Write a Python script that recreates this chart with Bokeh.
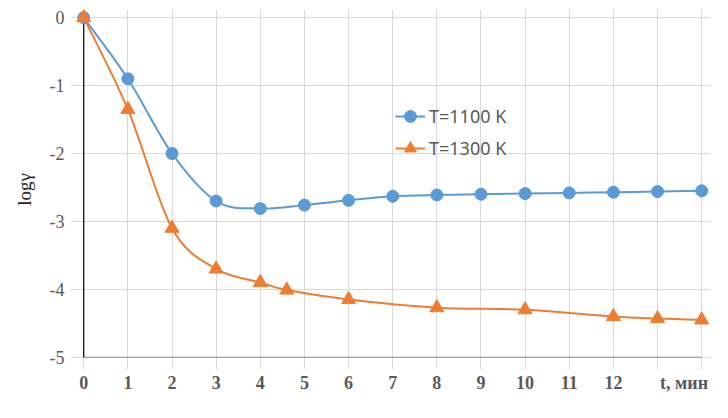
from bokeh.plotting import figure
from bokeh.models import (FixedTicker, Legend, LegendItem, Range1d, ColumnDataSource)
from bokeh.embed import file_html
from bokeh.resources import INLINE

# ---- data ----
t_1100 = [0, 1, 2, 3, 4, 5, 6, 7, 8, 9, 10, 11, 12, 13, 14]
log_1100 = [0.0, -0.9, -2.0, -2.7, -2.81, -2.76, -2.69, -2.63, -2.61, -2.60, -2.59, -2.58, -2.57, -2.56, -2.55]
t_1300 = [0, 1, 2, 3, 4, 4.6, 6, 8, 10, 12, 13, 14]
log_1300 = [0.0, -1.35, -3.1, -3.7, -3.9, -4.01, -4.15, -4.27, -4.3, -4.4, -4.43, -4.45]
x_ticks = list(range(0, 13))
x_grid = list(range(0, 15))
y_ticks = [0, -1, -2, -3, -4, -5]
y_tick_labels = ["0", "-1", "-2", "-3", "-4", "-5"]
series_names = ["T=1100 K", "T=1300 K"]
colors = ["#5B9BD5", "#ED7D31"]
x_unit_label = "t, мин"
x_unit_pos = 13.6
y_label = "logγ"


def bezier_source(xs, ys, k=1.0 / 6.0):
    n = len(xs)
    d = dict(x0=[], y0=[], x1=[], y1=[], cx0=[], cy0=[], cx1=[], cy1=[])
    for i in range(n - 1):
        xm, ym = (xs[i - 1], ys[i - 1]) if i > 0 else (xs[i], ys[i])
        xp, yp = (xs[i + 2], ys[i + 2]) if i + 2 < n else (xs[i + 1], ys[i + 1])
        d["x0"].append(xs[i]); d["y0"].append(ys[i])
        d["x1"].append(xs[i + 1]); d["y1"].append(ys[i + 1])
        d["cx0"].append(xs[i] + (xs[i + 1] - xm) * k)
        d["cy0"].append(ys[i] + (ys[i + 1] - ym) * k)
        d["cx1"].append(xs[i + 1] - (xp - xs[i]) * k)
        d["cy1"].append(ys[i + 1] - (yp - ys[i]) * k)
    return ColumnDataSource(d)


p = figure(width=712, height=402, output_backend="svg", toolbar_location=None,
           x_range=Range1d(-0.3, 14.2), y_range=Range1d(-5.18, 0.12),
           min_border_left=70, min_border_right=2, min_border_top=9, min_border_bottom=33)
p.outline_line_color = None
p.background_fill_color = "white"
p.border_fill_color = "white"

# grids
p.xgrid.ticker = FixedTicker(ticks=x_grid)
p.ygrid.ticker = FixedTicker(ticks=y_ticks)
p.xgrid.grid_line_color = "#D9D9D9"
p.ygrid.grid_line_color = "#D9D9D9"
p.xgrid.bounds = (min(y_ticks), max(y_ticks))
p.ygrid.bounds = (min(x_grid), max(x_grid))

# axes
for ax in (p.xaxis[0], p.yaxis[0]):
    ax.axis_line_color = None
    ax.major_tick_line_color = None
    ax.minor_tick_line_color = None
    ax.major_tick_out = 0
    ax.major_tick_in = 0
    ax.minor_tick_out = 0
    ax.minor_tick_in = 0

p.xaxis.ticker = FixedTicker(ticks=x_ticks + [x_unit_pos])
p.xaxis.major_label_overrides = {x_unit_pos: x_unit_label}
p.xaxis.major_label_text_font = "Liberation Serif"
p.xaxis.major_label_text_font_style = "bold"
p.xaxis.major_label_text_font_size = "18px"
p.xaxis.major_label_text_color = "#595959"
p.xaxis.major_label_standoff = 3

p.yaxis.ticker = FixedTicker(ticks=y_ticks)
p.yaxis.major_label_overrides = {t: s for t, s in zip(y_ticks, y_tick_labels)}
p.yaxis.major_label_text_font = "Liberation Serif"
p.yaxis.major_label_text_font_size = "18px"
p.yaxis.major_label_text_color = "#595959"
p.yaxis.major_label_standoff = 6
p.yaxis.axis_label = y_label
p.yaxis.axis_label_text_font = "Liberation Serif"
p.yaxis.axis_label_text_font_style = "normal"
p.yaxis.axis_label_text_font_size = "19px"
p.yaxis.axis_label_text_color = "#262626"
p.yaxis.axis_label_standoff = 12

# axis lines drawn at data zero / bottom
p.segment(x0=[min(x_grid)], y0=[min(y_ticks)], x1=[max(x_grid)], y1=[min(y_ticks)],
          line_color="#8C8C8C", line_width=1.2)
p.segment(x0=[min(x_grid)], y0=[min(y_ticks)], x1=[min(x_grid)], y1=[max(y_ticks)],
          line_color="black", line_width=1.2)

# curves
items = []
for xs, ys, col, name, marker, size in [
        (t_1100, log_1100, colors[0], series_names[0], "circle", 12),
        (t_1300, log_1300, colors[1], series_names[1], "triangle", 14)]:
    p.bezier(x0="x0", y0="y0", x1="x1", y1="y1", cx0="cx0", cy0="cy0", cx1="cx1", cy1="cy1",
             source=bezier_source(xs, ys), line_color=col, line_width=2)
    sc = p.scatter(xs, ys, marker=marker, size=size, fill_color=col, line_color=col)
    leg_line = p.line(x=xs[:1], y=ys[:1], line_color=col, line_width=2)
    items.append(LegendItem(label=name, renderers=[leg_line, sc]))

legend = Legend(items=items, location=(325, 206), border_line_color=None,
                background_fill_alpha=0, padding=0, margin=0, spacing=2,
                glyph_width=30, glyph_height=30, label_height=20, label_standoff=4,
                label_text_font="Noto Sans", label_text_font_size="18px",
                label_text_color="#595959")
p.add_layout(legend, "center")

open("out.html", "w").write(file_html(p, INLINE))
